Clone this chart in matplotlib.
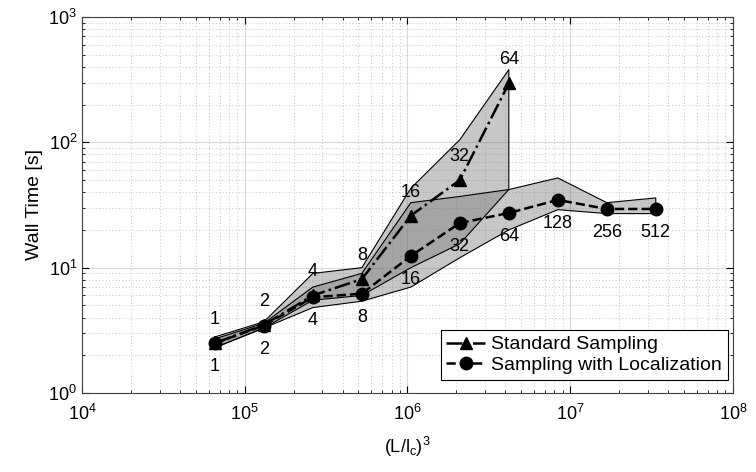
import numpy as np
import matplotlib
matplotlib.use("Agg")
from matplotlib import pyplot as plt

plt.rcParams['font.family'] = ['Liberation Sans', 'DejaVu Sans']
plt.rcParams['mathtext.default'] = 'regular'

# number of samples / cells (labels) and x = (L/lc)^3
n_std = [1, 2, 4, 8, 16, 32, 64]
n_loc = [1, 2, 4, 8, 16, 32, 64, 128, 256, 512]
x_std = [65536 * n for n in n_std]
x_loc = [65536 * n for n in n_loc]

# standard sampling: mean, upper, lower wall time [s]
std_mean = [2.5, 3.5, 6.0, 8.1, 26, 50, 295]
std_up = [2.8, 3.7, 9.0, 10.0, 43, 105, 380]
std_lo = [2.3, 3.3, 5.5, 6.0, 10, 15.5, 42]

# sampling with localization
loc_mean = [2.5, 3.45, 5.8, 6.2, 12.4, 22.7, 27.3, 34.7, 29.4, 29.4]
loc_up = [2.7, 3.6, 7.0, 9.0, 33, 37, 42, 52, 33, 36]
loc_lo = [2.3, 3.3, 4.8, 5.4, 7.0, 12, 20, 29, 27, 27]

fig = plt.figure(figsize=(7.56, 4.72), dpi=100)
ax = fig.add_axes([0.1085, 0.1674, 0.861, 0.7966])
ax.set_xscale('log')
ax.set_yscale('log')

ax.fill_between(x_std, std_lo, std_up, facecolor='0.45', alpha=0.4, edgecolor='none', zorder=2)
ax.fill_between(x_loc, loc_lo, loc_up, facecolor='0.45', alpha=0.4, edgecolor='none', zorder=2)
# band outlines
for xs, lo, up in [(x_std, std_lo, std_up), (x_loc, loc_lo, loc_up)]:
    px = list(xs) + list(xs[::-1]) + [xs[0]]
    py = list(up) + list(lo[::-1]) + [up[0]]
    ax.plot(px, py, color='k', lw=0.8, zorder=3)

ax.plot(x_std, std_mean, '-.', color='k', lw=1.8, marker='^', ms=9, label='Standard Sampling', zorder=4)
ax.plot(x_loc, loc_mean, '--', color='k', lw=1.8, marker='o', ms=9, label='Sampling with Localization', zorder=4)

for xi, yi, n in zip(x_std, std_mean, n_std):
    ax.annotate(str(n), (xi, yi), xytext=(0, 17), textcoords='offset points',
                ha='center', va='center', fontsize=13, zorder=5)
for xi, yi, n in zip(x_loc, loc_mean, n_loc):
    ax.annotate(str(n), (xi, yi), xytext=(0, -17), textcoords='offset points',
                ha='center', va='center', fontsize=13, zorder=5)

ax.set_xlim(1e4, 1e8)
ax.set_ylim(1e0, 1e3)
ax.set_axisbelow(True)
ax.grid(True, which='major', color='0.85', lw=0.8, ls='-')
ax.grid(True, which='minor', color='0.7', lw=0.6, ls=(0, (1, 3)))
ax.tick_params(which='both', direction='in', top=True, right=True, labelsize=13)
ax.tick_params(axis='x', which='major', pad=8)
ax.tick_params(which='major', length=5)
ax.tick_params(which='minor', length=2.5)
for s in ax.spines.values():
    s.set_color('0.25')

ax.set_xlabel('$(L/l_c)^3$', fontsize=13, labelpad=8)
ax.set_ylabel('Wall Time [s]', fontsize=14)

leg = ax.legend(loc='lower right', fontsize=14, frameon=True, fancybox=False,
                edgecolor='k', framealpha=1, handlelength=2.0, borderpad=0.3,
                labelspacing=0.15, handletextpad=0.3, borderaxespad=0,
                bbox_to_anchor=(0.992, 0.035))
leg.get_frame().set_linewidth(0.8)

fig.savefig('out.png', dpi=100)
